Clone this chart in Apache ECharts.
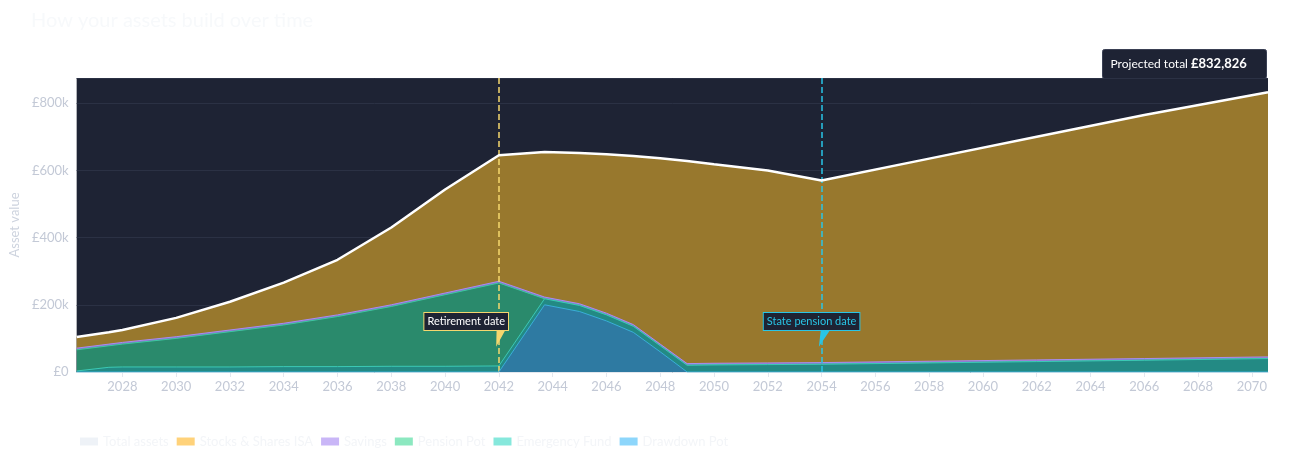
<!DOCTYPE html>
<html>
<head>
<meta charset="UTF-8">
<title>How your assets build over time</title>
<style>body{margin:0;background:#fff;}</style>
</head>
<body>
<div id="chart" style="width:1296px;height:470px;"></div>
<script src="https://cdn.jsdelivr.net/npm/echarts@6/dist/echarts.min.js"></script>
<script>
var years = [2026.3, 2027.5, 2028, 2030, 2032, 2034, 2036, 2038, 2040, 2042, 2043.7, 2045, 2046, 2047, 2048, 2049, 2050, 2052, 2054, 2058, 2062, 2066, 2070.6];
// values in £k
var drawdown = [0, 0, 0, 0, 0, 0, 0, 0, 0, 0, 200, 180, 152, 118, 60, 0, 0, 0, 0, 0, 0, 0, 0];
var emergency = [3, 14, 15, 15, 15, 16, 16, 17, 17, 18, 18, 18, 18, 18, 18, 20, 21, 22, 23, 27, 31, 35, 40];
var pension = [63, 64, 68, 85, 105, 124, 149, 178, 213, 247, 0, 0, 0, 0, 0, 0, 0, 0, 0, 0, 0, 0, 0];
var savings = [5, 5, 5, 5, 5, 5, 5, 5, 5, 5, 5, 5, 5, 5, 5, 5, 5, 5, 5, 5, 5, 5, 5];
var isa = [33, 35, 37, 56, 84, 121, 164, 230, 308, 375, 432, 449, 473, 502, 553, 603, 592, 573, 542, 603, 664, 725, 787.826];
var total = [104, 118, 125, 161, 209, 266, 334, 430, 543, 645, 655, 652, 648, 643, 636, 628, 618, 600, 570, 635, 700, 765, 832.826];

// stack the layers by hand (bottom to top)
var layers = [drawdown, emergency, pension, savings, isa];
var tops = [];
var run = years.map(function () { return 0; });
layers.forEach(function (arr) {
  run = run.map(function (v, i) { return v + arr[i]; });
  tops.push(run.slice());
});

function pts(arr) {
  return years.map(function (y, i) { return [y, arr[i] * 1000]; });
}

var chart = echarts.init(document.getElementById('chart'));

function area(name, data, legendColor, fill, lineColor, z) {
  return {
    name: name, type: 'line', data: pts(data), z: z,
    symbol: 'none', smooth: false,
    itemStyle: { color: legendColor },
    lineStyle: { color: lineColor, width: 1 },
    areaStyle: { color: fill, opacity: 1 }
  };
}

var series = [
  area('Stocks & Shares ISA', tops[4], '#ffd27a', '#98782d', '#98782d', 1),
  area('Savings', tops[3], '#c9b6f7', '#8a72cc', '#a88ef0', 2),
  area('Pension Pot', tops[2], '#8ce8c0', '#2a8a6c', '#3cc9a0', 3),
  area('Emergency Fund', tops[1], '#86e8dc', '#238a84', '#3cc9b5', 4),
  area('Drawdown Pot', tops[0], '#8dd6fb', '#2e7aa2', '#3aaed8', 5),
  {
    name: 'Total assets', type: 'line', data: pts(total), symbol: 'none',
    itemStyle: { color: '#eef2f7' },
    lineStyle: { color: '#ffffff', width: 2.5 },
    z: 6,
    markLine: {
      symbol: 'none', silent: true,
      label: { show: false },
      data: [
        { xAxis: 2042, lineStyle: { color: '#f5d76e', type: 'dashed', width: 1.5 } },
        { xAxis: 2054, lineStyle: { color: '#29c5e6', type: 'dashed', width: 1.5 } }
      ]
    },
    markPoint: {
      silent: true,
      data: [
        { coord: [2041.9, 150000], symbol: 'rect', symbolSize: 1, itemStyle: { color: 'transparent' },
          label: { show: true, formatter: 'Retirement date', color: '#fff', fontSize: 11, fontFamily: 'Lato',
            backgroundColor: '#1e2334', borderColor: '#f5d76e', borderWidth: 1, padding: [3, 3], offset: [-30, 0] } },
        { coord: [2054, 150000], symbol: 'rect', symbolSize: 1, itemStyle: { color: 'transparent' },
          label: { show: true, formatter: 'State pension date', color: '#29c5e6', fontSize: 11, fontFamily: 'Lato',
            backgroundColor: '#1e2334', borderColor: '#29c5e6', borderWidth: 1, padding: [3, 3], offset: [-10, 0] } },
        { coord: [2041.9, 75000], symbol: 'arrow', symbolSize: [8, 22], symbolRotate: 165, itemStyle: { color: '#f5d76e' }, label: { show: false } },
        { coord: [2053.9, 75000], symbol: 'arrow', symbolSize: [8, 22], symbolRotate: 160, itemStyle: { color: '#29c5e6' }, label: { show: false } }
      ]
    }
  }
];

var option = {
  animation: false,
  title: { text: 'How your assets build over time', left: 26, top: 6,
    textStyle: { color: '#f7f9fb', fontSize: 20, fontWeight: 'normal', fontFamily: 'Lato' } },
  grid: { left: 72, right: 28, top: 78, bottom: 98, backgroundColor: '#1e2334', show: true, borderWidth: 0 },
  legend: {
    left: 75, top: 430, icon: 'rect', itemWidth: 18, itemHeight: 8, itemGap: 8,
    data: ['Total assets', 'Stocks & Shares ISA', 'Savings', 'Pension Pot', 'Emergency Fund', 'Drawdown Pot'],
    textStyle: { color: '#f3f5f8', fontSize: 13, fontFamily: 'Lato' }
  },
  xAxis: {
    type: 'value', min: 2026.3, max: 2070.6, splitNumber: 22,
    axisLine: { lineStyle: { color: '#e3e7ee' } },
    axisTick: { show: true, lineStyle: { color: '#e3e7ee' } },
    splitLine: { show: false },
    axisLabel: { color: '#c3c9d6', fontSize: 13, fontFamily: 'Lato', showMinLabel: false, showMaxLabel: false,
      formatter: function (v) { return v % 1 === 0 ? String(v) : ''; } }
  },
  yAxis: {
    type: 'value', min: 0, max: 875000, interval: 200000,
    name: 'Asset value', nameLocation: 'middle', nameGap: 44,
    nameTextStyle: { color: '#cdd3de', fontSize: 13, fontFamily: 'Lato' },
    axisLine: { show: false }, axisTick: { show: false },
    splitLine: { lineStyle: { color: '#2b3144' } },
    axisLabel: { color: '#c3c9d6', fontSize: 13, fontFamily: 'Lato', showMaxLabel: false,
      formatter: function (v) { return v === 0 ? '£0' : '£' + v / 1000 + 'k'; } }
  },
  graphic: [{
    type: 'group', right: 29, top: 49,
    children: [
      { type: 'rect', shape: { x: 0, y: 0, width: 164, height: 29, r: 2 }, style: { fill: '#1e2334', stroke: '#3a4054' } },
      { type: 'text', x: 8, y: 8, style: { rich: { a: { fill: '#fff', fontSize: 12, fontFamily: 'Lato' }, b: { fill: '#fff', fontSize: 13, fontWeight: 'bold', fontFamily: 'Lato' } },
        text: '{a|Projected total }{b|£832,826}' } }
    ]
  }],
  series: series
};
chart.setOption(option);
</script>
</body>
</html>
